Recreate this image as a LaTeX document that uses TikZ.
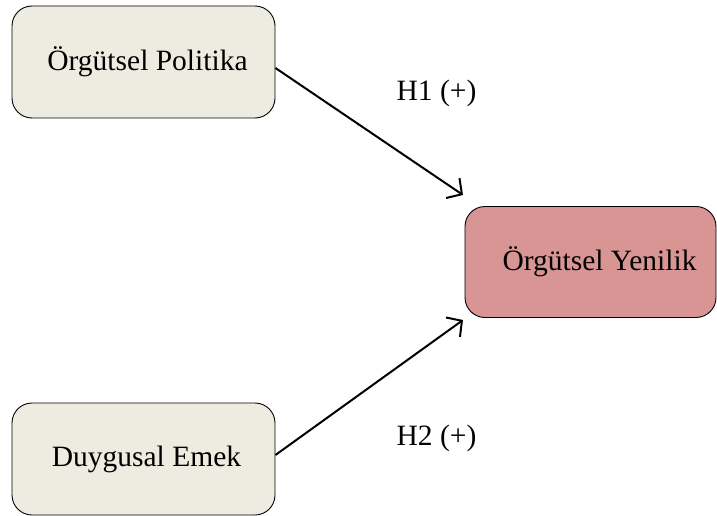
\documentclass[tikz,border=0pt]{standalone}
\usepackage{fontspec}
\setmainfont{Liberation Serif}
\usetikzlibrary{arrows.meta}
\definecolor{boxbeige}{HTML}{EEECE1}
\definecolor{boxpink}{HTML}{D99594}
\begin{document}
\begin{tikzpicture}[x=1pt,y=-1pt,
  box/.style={draw=black, line width=0.9pt, rounded corners=20pt, minimum width=263pt, minimum height=112pt, inner sep=0pt, font=\fontsize{29.5}{35}\selectfont},
  link/.style={line width=2pt, -{Straight Barb[length=11pt,width=24pt,line width=2pt]}},
  lbl/.style={font=\fontsize{29.5}{35}\selectfont, inner sep=0pt}]
\useasboundingbox (0,0) rectangle (717,516);
\node[box, fill=boxbeige] (op) at (143.5,62) {\hspace{8pt}Örgütsel Politika};
\node[box, fill=boxbeige] (de) at (143.5,459) {\hspace{6pt}Duygusal Emek};
\node[box, fill=boxpink, minimum width=251pt, minimum height=111pt] (oy) at (590.5,262) {\hspace{18pt}Örgütsel Yenilik};
\coordinate (t1) at (463,195);
\coordinate (t2) at (463,320);
\draw[link] (op.east |- 0,68) -- (t1);
\draw[link] (de.east |- 0,455) -- (t2);
\node[lbl] (h1) at (436.5,93) {H1 (+)};
\node[lbl] (h2) at (436.5,438) {H2 (+)};
\end{tikzpicture}
\end{document}
